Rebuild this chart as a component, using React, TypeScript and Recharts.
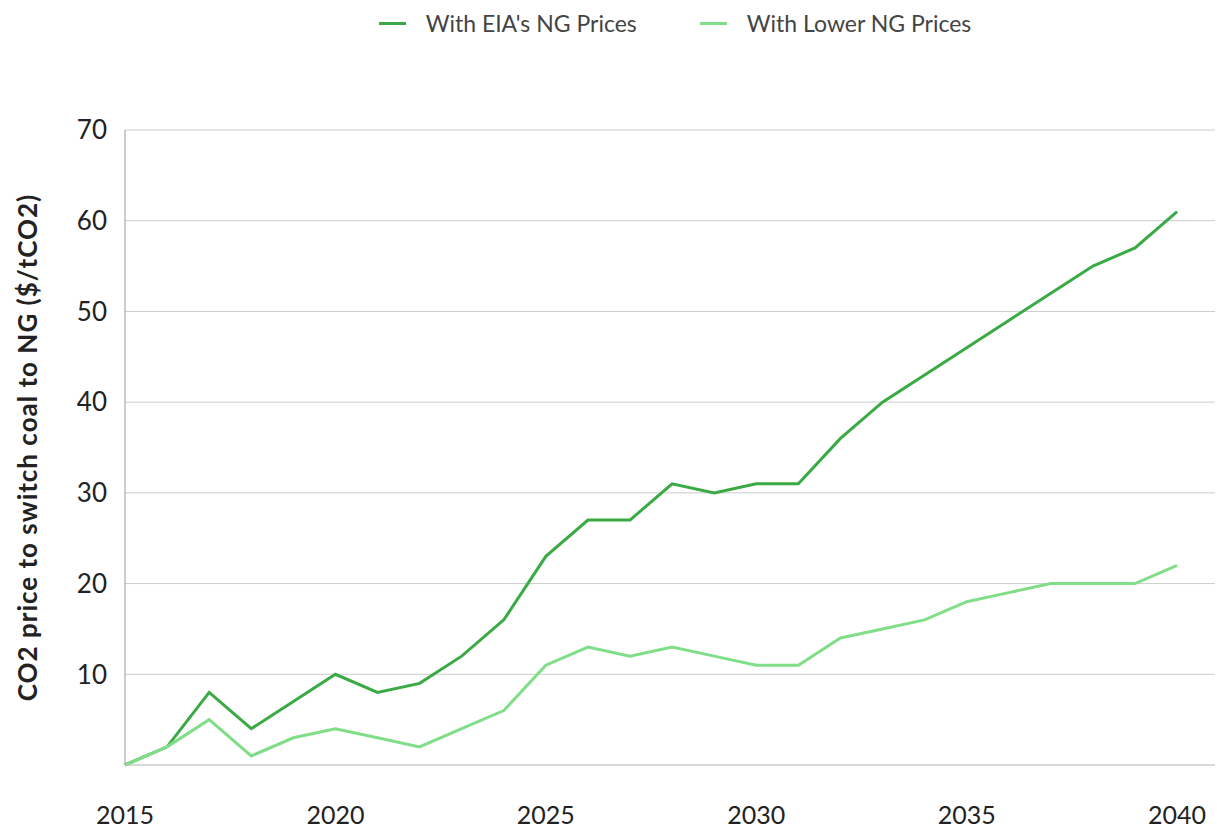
import React from "react";
import { LineChart, Line, XAxis, YAxis, CartesianGrid, Legend } from "recharts";

const years = [2015, 2016, 2017, 2018, 2019, 2020, 2021, 2022, 2023, 2024, 2025, 2026, 2027, 2028, 2029, 2030, 2031, 2032, 2033, 2034, 2035, 2036, 2037, 2038, 2039, 2040];
const eiaPrices = [0, 2, 8, 4, 7, 10, 8, 9, 12, 16, 23, 27, 27, 31, 30, 31, 31, 36, 40, 43, 46, 49, 52, 55, 57, 61];
const lowerPrices = [0, 2, 5, 1, 3, 4, 3, 2, 4, 6, 11, 13, 12, 13, 12, 11, 11, 14, 15, 16, 18, 19, 20, 20, 20, 22];
const xTicks = [2015, 2020, 2025, 2030, 2035, 2040];
const yTicks = [10, 20, 30, 40, 50, 60, 70];

const data = years.map((y, i) => ({ year: y, eia: eiaPrices[i], lower: lowerPrices[i] }));

const FONT = "Lato, 'Open Sans', sans-serif";
const DARK = "#3aaa45";
const LIGHT = "#80dd88";

const LegendContent = () => (
  <div style={{ display: "flex", justifyContent: "center", fontFamily: FONT, fontSize: 23, color: "#444", paddingLeft: 133, lineHeight: "30px" }}>
    {[
      { c: DARK, t: "With EIA's NG Prices" },
      { c: LIGHT, t: "With Lower NG Prices" },
    ].map((e, i) => (
      <div key={i} style={{ display: "flex", alignItems: "center", marginRight: i === 0 ? 63 : 0 }}>
        <div style={{ width: 27, height: 3, background: e.c, marginRight: 20 }} />
        <span>{e.t}</span>
      </div>
    ))}
  </div>
);

export default function App() {
  return (
    <div style={{ position: "absolute", left: 0, top: 0, width: 1217, height: 831, background: "#fff" }}>
      <LineChart width={1217} height={831} data={data} margin={{ top: 100, right: 2, left: 0, bottom: 0 }}>
        <Legend verticalAlign="top" content={<LegendContent />} wrapperStyle={{ top: 8, left: 0, width: 1217, height: 30 }} />
        <CartesianGrid horizontal vertical={false} stroke="#cccccc" />
        <XAxis
          dataKey="year"
          type="number"
          domain={[2015, 2040.9]}
          ticks={xTicks}
          tickLine={false}
          tickSize={0}
          tickMargin={41}
          height={66}
          stroke="#cccccc"
          tick={{ fontFamily: FONT, fontSize: 25, fill: "#222" }}
        />
        <YAxis
          domain={[0, 70]}
          ticks={yTicks}
          interval={0}
          tickLine={false}
          tickSize={0}
          tickMargin={18}
          width={125}
          stroke="#999999"
          tick={{ fontFamily: FONT, fontSize: 26, fill: "#222" }}
          label={{
            value: "CO2 price to switch coal to NG ($/tCO2)",
            angle: -90,
            position: "insideLeft",
            dx: 23,
            dy: 0,
            style: { fontFamily: FONT, fontSize: 26, fontWeight: 700, fill: "#222", textAnchor: "middle", letterSpacing: 1 },
          }}
        />
        <Line dataKey="eia" stroke={DARK} strokeWidth={3} dot={false} isAnimationActive={false} />
        <Line dataKey="lower" stroke={LIGHT} strokeWidth={3} dot={false} isAnimationActive={false} />
      </LineChart>
    </div>
  );
}
